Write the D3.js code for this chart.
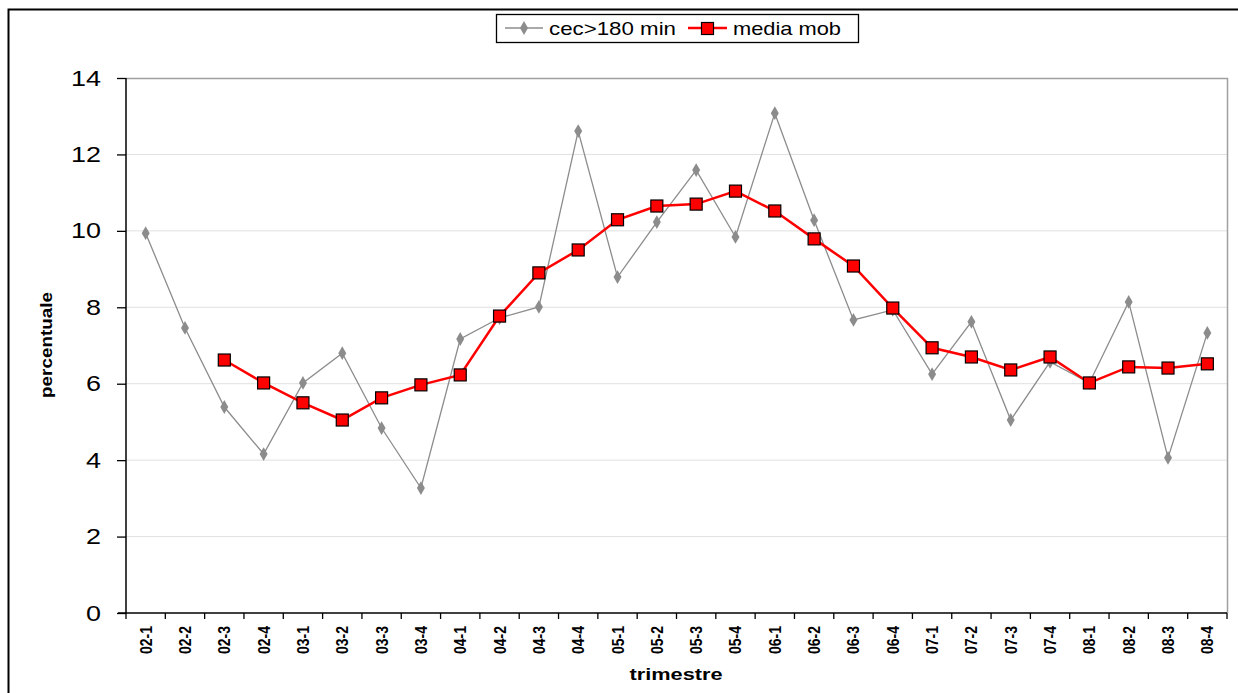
<!DOCTYPE html>
<html><head><meta charset="utf-8">
<script src="https://cdn.jsdelivr.net/npm/d3@7"></script>
<style>body{margin:0;background:#fff}svg{display:block}</style>
</head><body>
<script>
const categories = ["02-1","02-2","02-3","02-4","03-1","03-2","03-3","03-4","04-1","04-2","04-3","04-4","05-1","05-2","05-3","05-4","06-1","06-2","06-3","06-4","07-1","07-2","07-3","07-4","08-1","08-2","08-3","08-4"];
const cec180 = [9.94,7.46,5.39,4.16,6.02,6.80,4.84,3.27,7.17,7.72,8.01,12.61,8.79,10.23,11.59,9.84,13.08,10.28,7.67,7.93,6.25,7.62,5.05,6.57,6.02,8.14,4.06,7.33];
const mediaMob = [null,null,6.62,6.02,5.50,5.05,5.63,5.97,6.23,7.77,8.90,9.50,10.29,10.65,10.70,11.04,10.52,9.79,9.08,7.98,6.94,6.70,6.36,6.70,6.02,6.44,6.41,6.52];
const yTicks = [0,2,4,6,8,10,12,14];
const seriesNames = ["cec>180 min","media mob"];

const FONT="Liberation Sans, Arial, sans-serif";
const W=1238,H=693;
const svg=d3.select("body").append("svg").attr("width",W).attr("height",H);
svg.append("rect").attr("x",8.5).attr("y",9.5).attr("width",W).attr("height",H).attr("fill","none").attr("stroke","#000").attr("stroke-width",2);

const L=126,R=1227,T=78,B=613;
const x=d3.scaleBand().domain(categories).range([L,R]);
const y=d3.scaleLinear().domain([0,14]).range([B,T]);

// gridlines
svg.append("g").selectAll("line").data(yTicks.filter(v=>v>0&&v<14)).join("line")
 .attr("x1",L).attr("x2",R).attr("y1",d=>y(d)).attr("y2",d=>y(d)).attr("stroke","#e0e0e0").attr("stroke-width",1);
// plot border top/right
svg.append("path").attr("d",`M${L},${T+0.5}H${R+0.5}V${B}`).attr("fill","none").attr("stroke","#a0a0a0").attr("stroke-width",1.5);

// y axis
const ya=svg.append("g").attr("transform",`translate(${L},0)`).call(d3.axisLeft(y).tickValues(yTicks).tickSize(9).tickPadding(16).tickFormat(d3.format("d")));
ya.select(".domain").attr("stroke","#000").attr("stroke-width",1.5).attr("d",`M0,${T}V${B}`);
ya.selectAll(".tick line").attr("stroke","#000").attr("stroke-width",1.3);
ya.selectAll("text").attr("font-family",FONT).attr("font-size",22).attr("fill","#000")
  .attr("textLength",d=>String(d).length*15).attr("lengthAdjust","spacingAndGlyphs");

// x axis
const xa=svg.append("g").attr("transform",`translate(0,${B})`);
xa.append("line").attr("x1",L-8).attr("x2",R).attr("y1",0).attr("y2",0).attr("stroke","#000").attr("stroke-width",1.5);
const bounds=categories.map(c=>x(c)).concat([R]);
xa.selectAll("line.t").data(bounds).join("line").attr("class","t").attr("x1",d=>d).attr("x2",d=>d).attr("y1",0).attr("y2",6).attr("stroke","#000").attr("stroke-width",1.3);
xa.selectAll("text").data(categories).join("text")
 .attr("transform",d=>`translate(${x(d)+x.bandwidth()/2+6},${13}) rotate(-90)`)
 .attr("text-anchor","end").attr("font-family",FONT).attr("font-weight","bold").attr("font-size",16)
 .attr("textLength",28).attr("lengthAdjust","spacingAndGlyphs").text(d=>d);

// axis titles
svg.append("text").attr("x",676).attr("y",680).attr("text-anchor","middle").attr("font-family",FONT).attr("font-weight","bold").attr("font-size",17)
 .attr("textLength",93).attr("lengthAdjust","spacingAndGlyphs").text("trimestre");
svg.append("text").attr("transform","translate(52,345) rotate(-90)").attr("text-anchor","middle").attr("font-family",FONT).attr("font-weight","bold").attr("font-size",17)
 .attr("textLength",106).attr("lengthAdjust","spacingAndGlyphs").text("percentuale");

const cx=d=>x(d)+x.bandwidth()/2;
// gray series
const line=d3.line().defined(d=>d[1]!=null).x(d=>cx(d[0])).y(d=>y(d[1]));
const g1=categories.map((c,i)=>[c,cec180[i]]);
svg.append("path").attr("d",line(g1)).attr("fill","none").attr("stroke","#8c8c8c").attr("stroke-width",1.3);
const diamond=d3.symbol().type(d3.symbolDiamond).size(55);
svg.append("g").selectAll("path").data(g1).join("path").attr("d",diamond).attr("transform",d=>`translate(${cx(d[0])},${y(d[1])})`).attr("fill","#8c8c8c");

// red series
const g2=categories.map((c,i)=>[c,mediaMob[i]]).filter(d=>d[1]!=null);
svg.append("path").attr("d",line(g2)).attr("fill","none").attr("stroke","#ff0000").attr("stroke-width",2.5);
svg.append("g").selectAll("rect").data(g2).join("rect").attr("x",d=>cx(d[0])-6).attr("y",d=>y(d[1])-6).attr("width",12).attr("height",12).attr("fill","#ff0000").attr("stroke","#000").attr("stroke-width",1.2);

// legend
const lg=svg.append("g");
lg.append("rect").attr("x",496.5).attr("y",14.5).attr("width",362).attr("height",28).attr("fill","#fff").attr("stroke","#000").attr("stroke-width",1.3);
lg.append("line").attr("x1",505).attr("x2",543).attr("y1",28).attr("y2",28).attr("stroke","#8c8c8c").attr("stroke-width",1.3);
lg.append("path").attr("d",diamond).attr("transform","translate(524,28)").attr("fill","#8c8c8c");
lg.append("text").attr("x",549).attr("y",35).attr("font-family",FONT).attr("font-size",19).attr("textLength",127).attr("lengthAdjust","spacingAndGlyphs").text(seriesNames[0]);
lg.append("line").attr("x1",688).attr("x2",727).attr("y1",28).attr("y2",28).attr("stroke","#ff0000").attr("stroke-width",2.5);
lg.append("rect").attr("x",701.5).attr("y",22.5).attr("width",12).attr("height",12).attr("fill","#ff0000").attr("stroke","#000").attr("stroke-width",1.2);
lg.append("text").attr("x",733).attr("y",35).attr("font-family",FONT).attr("font-size",19).attr("textLength",108).attr("lengthAdjust","spacingAndGlyphs").text(seriesNames[1]);
</script>
</body></html>
